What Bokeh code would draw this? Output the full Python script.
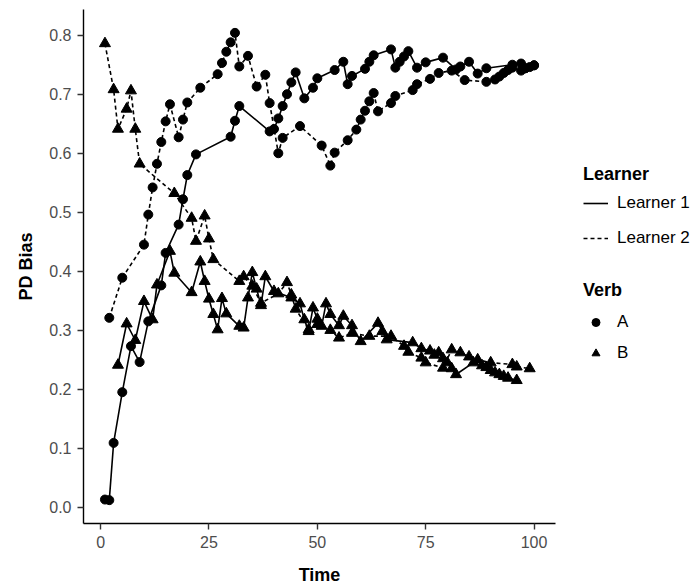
from bokeh.plotting import figure
from bokeh.layouts import row
from bokeh.models import Range1d, Legend, LegendItem, FixedTicker
from bokeh.embed import file_html
from bokeh.resources import INLINE

# Learner 1, Verb A
t_l1_a = [1, 2, 3, 5, 7, 9, 11, 14, 15, 18, 19, 20, 22, 30, 31, 32, 39, 40, 41, 42, 43, 44, 45, 47,
          49, 50, 54, 56, 57, 58, 61, 62, 63, 67, 68, 69, 70, 71, 73, 75, 79, 82, 83, 85, 87, 89,
          95, 97, 98, 99, 100]
y_l1_a = [0.013, 0.012, 0.109, 0.195, 0.273, 0.246, 0.315, 0.376, 0.431, 0.479, 0.522, 0.563, 0.598,
          0.628, 0.655, 0.680, 0.637, 0.641, 0.659, 0.680, 0.700, 0.720, 0.737, 0.693, 0.711, 0.727,
          0.741, 0.755, 0.717, 0.731, 0.743, 0.755, 0.766, 0.776, 0.745, 0.755, 0.764, 0.773, 0.745,
          0.754, 0.762, 0.742, 0.747, 0.755, 0.735, 0.744, 0.750, 0.752, 0.744, 0.746, 0.749]

# Learner 1, Verb B
t_l1_b = [4, 6, 8, 10, 12, 13, 16, 17, 21, 23, 24, 25, 26, 27, 28, 29, 32, 33, 34, 35, 36, 37, 38,
          40, 44, 46, 47, 48, 49, 50, 51, 52, 53, 55, 56, 58, 60, 64, 65, 66, 72, 74, 76, 77, 78,
          79, 80, 81, 82, 86, 88, 89, 90, 91, 92, 93, 94, 96]
y_l1_b = [0.241, 0.311, 0.283, 0.349, 0.318, 0.377, 0.434, 0.397, 0.364, 0.416, 0.383, 0.353, 0.327,
          0.301, 0.354, 0.328, 0.307, 0.304, 0.355, 0.398, 0.370, 0.342, 0.391, 0.366, 0.355, 0.345,
          0.318, 0.298, 0.338, 0.319, 0.307, 0.345, 0.327, 0.308, 0.324, 0.308, 0.281, 0.312, 0.298,
          0.284, 0.279, 0.269, 0.265, 0.258, 0.262, 0.252, 0.245, 0.235, 0.225, 0.245, 0.240, 0.237,
          0.232, 0.228, 0.225, 0.222, 0.219, 0.215]

# Learner 2, Verb A
t_l2_a = [2, 5, 10, 11, 12, 13, 14, 15, 16, 18, 19, 20, 23, 27, 28, 29, 30, 31, 32, 34, 36, 38, 39,
          41, 42, 46, 51, 53, 54, 57, 59, 60, 61, 62, 63, 64, 67, 68, 72, 73, 76, 78, 81, 84, 89,
          91, 92, 93, 94, 95, 97, 98, 100]
y_l2_a = [0.321, 0.389, 0.445, 0.496, 0.542, 0.582, 0.619, 0.654, 0.683, 0.627, 0.657, 0.686, 0.711,
          0.734, 0.753, 0.772, 0.788, 0.804, 0.747, 0.765, 0.713, 0.733, 0.685, 0.600, 0.626, 0.646,
          0.613, 0.579, 0.601, 0.622, 0.640, 0.657, 0.672, 0.688, 0.702, 0.671, 0.685, 0.697, 0.707,
          0.717, 0.726, 0.736, 0.740, 0.724, 0.721, 0.725, 0.730, 0.736, 0.741, 0.745, 0.740, 0.744,
          0.749]

# Learner 2, Verb B
t_l2_b = [1, 3, 4, 6, 7, 8, 9, 17, 21, 22, 24, 25, 26, 32, 33, 35, 37, 41, 43, 44, 45, 48, 50, 53,
          55, 58, 62, 67, 70, 71, 74, 75, 79, 81, 83, 85, 87, 90, 95, 96, 99]
y_l2_b = [0.786, 0.708, 0.641, 0.675, 0.706, 0.641, 0.582, 0.532, 0.490, 0.451, 0.494, 0.455, 0.420,
          0.383, 0.391, 0.375, 0.346, 0.362, 0.381, 0.360, 0.336, 0.301, 0.310, 0.300, 0.287, 0.295,
          0.290, 0.290, 0.273, 0.263, 0.253, 0.245, 0.236, 0.267, 0.262, 0.255, 0.250, 0.245, 0.242,
          0.238, 0.235]

x_ticks = [0, 25, 50, 75, 100]
x_tick_labels = ["0", "25", "50", "75", "100"]
y_ticks = [0.0, 0.1, 0.2, 0.3, 0.4, 0.5, 0.6, 0.7, 0.8]
y_tick_labels = ["0.0", "0.1", "0.2", "0.3", "0.4", "0.5", "0.6", "0.7", "0.8"]

learner_labels = ["Learner 1", "Learner 2"]
verb_labels = ["A", "B"]

FONT = "Liberation Sans"
INK = "black"
LW = 1.6
DASH = "4 3"
NAN = float("nan")

p = figure(width=557, height=587, output_backend="svg", toolbar_location=None,
           x_range=Range1d(-3.95, 104.95), y_range=Range1d(-0.0276, 0.8436),
           min_border_left=83, min_border_right=2, min_border_top=9, min_border_bottom=64)
p.outline_line_color = None
p.xgrid.visible = False
p.ygrid.visible = False

p.line(t_l1_a, y_l1_a, line_color=INK, line_width=LW)
p.line(t_l1_b, y_l1_b, line_color=INK, line_width=LW)
p.line(t_l2_a, y_l2_a, line_color=INK, line_width=LW, line_dash=DASH)
p.line(t_l2_b, y_l2_b, line_color=INK, line_width=LW, line_dash=DASH)

p.scatter(t_l1_a, y_l1_a, marker="circle", size=9, fill_color=INK, line_color=INK)
p.scatter(t_l2_a, y_l2_a, marker="circle", size=9, fill_color=INK, line_color=INK)
p.scatter(t_l1_b, y_l1_b, marker="triangle", size=11, fill_color=INK, line_color=INK)
p.scatter(t_l2_b, y_l2_b, marker="triangle", size=11, fill_color=INK, line_color=INK)

for ax in (p.xaxis[0], p.yaxis[0]):
    ax.axis_line_color = INK
    ax.axis_line_width = 1.4
    ax.major_tick_line_color = "#333333"
    ax.major_tick_line_width = 1.4
    ax.major_tick_in = 0
    ax.major_tick_out = 6
    ax.minor_tick_line_color = None
    ax.major_label_text_font = FONT
    ax.major_label_text_font_size = "16px"
    ax.major_label_text_color = "#4d4d4d"
    ax.axis_label_text_font = FONT
    ax.axis_label_text_font_size = "18px"
    ax.axis_label_text_font_style = "bold"
    ax.axis_label_text_color = INK

p.xaxis.ticker = FixedTicker(ticks=x_ticks)
p.xaxis.major_label_overrides = dict(zip(x_ticks, x_tick_labels))
p.yaxis.ticker = FixedTicker(ticks=y_ticks)
p.yaxis.major_label_overrides = dict(zip(y_ticks, y_tick_labels))
p.xaxis.axis_label = "Time"
p.yaxis.axis_label = "PD Bias"
p.xaxis.major_label_standoff = 6
p.yaxis.major_label_standoff = 6
p.xaxis.axis_label_standoff = 14
p.yaxis.axis_label_standoff = 10

# legend panel
lp = figure(width=140, height=587, output_backend="svg", toolbar_location=None,
            x_range=Range1d(0, 1), y_range=Range1d(0, 1),
            min_border_left=0, min_border_right=0, min_border_top=0, min_border_bottom=0)
lp.outline_line_color = None
lp.axis.visible = False
lp.grid.visible = False

g_l1 = lp.line([NAN], [NAN], line_color=INK, line_width=LW)
g_l2 = lp.line([NAN], [NAN], line_color=INK, line_width=LW, line_dash=DASH)
g_a = lp.scatter([NAN], [NAN], marker="circle", size=8, fill_color=INK, line_color=INK)
g_b = lp.scatter([NAN], [NAN], marker="triangle", size=10, fill_color=INK, line_color=INK)


def make_legend(title, items, loc, spacing, standoff):
    lg = Legend(items=items, title=title, location=loc)
    lg.title_text_font = FONT
    lg.title_text_font_size = "18px"
    lg.title_text_font_style = "bold"
    lg.title_text_color = INK
    lg.title_standoff = standoff
    lg.label_text_font = FONT
    lg.label_text_font_size = "17px"
    lg.label_text_color = INK
    lg.label_standoff = 9
    lg.glyph_width = 25
    lg.glyph_height = 20
    lg.label_height = 20
    lg.spacing = spacing
    lg.padding = 0
    lg.margin = 0
    lg.border_line_color = None
    lg.background_fill_alpha = 0
    return lg


leg1 = make_legend("Learner",
                   [LegendItem(label=learner_labels[0], renderers=[g_l1]),
                    LegendItem(label=learner_labels[1], renderers=[g_l2])],
                   (26, 275), 15, 8)
leg2 = make_legend("Verb",
                   [LegendItem(label=verb_labels[0], renderers=[g_a]),
                    LegendItem(label=verb_labels[1], renderers=[g_b])],
                   (26, 160), 11, 11)
lp.add_layout(leg1)
lp.add_layout(leg2)

layout = row(p, lp, spacing=0)
open("out.html", "w").write(file_html(layout, INLINE))
